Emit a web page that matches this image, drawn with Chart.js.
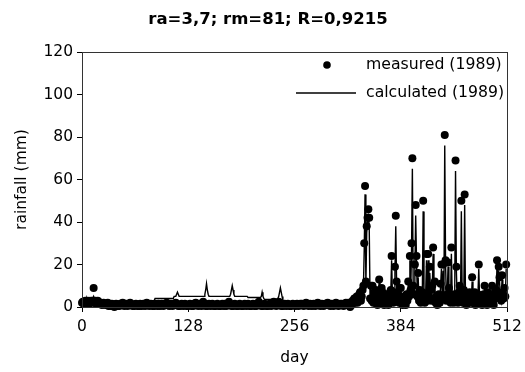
<!DOCTYPE html>
<html>
<head>
<meta charset="utf-8">
<script src="https://cdn.jsdelivr.net/npm/chart.js@4.4.1/dist/chart.umd.min.js"></script>
<style>
  html, body { margin: 0; padding: 0; background: #fff; }
  #wrap { width: 525px; height: 372px; }
</style>
</head>
<body>
<div id="wrap"><canvas id="rain"></canvas></div>
<script>
// 1989 daily rainfall, measured vs calculated (mm)
const TITLE = "ra=3,7; rm=81; R=0,9215";
const X_TICKS = [0, 128, 256, 384, 512];
const Y_TICKS = [0, 20, 40, 60, 80, 100, 120];

const measured = [
  2,2.5,1.5,2,3,2,1.5,3,2,1.5,2,3,2.5,3,9,2,3,1.5,2,3,2.5,1.5,2,1.5,1,1.5,2,1.5,1,1.5,1.5,2,
  0.5,1,0.5,1,1.5,1,0.5,0,1,1.5,1,0.5,1,0.5,1.5,1,1.5,2,1,0.5,1,1.5,1,0.5,1,1.5,2,1.5,1,0.5,1,0.5,
  1,1.5,1,0.5,1,0.5,1.5,1,0.5,1,1.5,1,0.5,1,2,1.5,1,0.5,1,1.5,1,0.5,1,0.5,1.5,1,1,0.5,1.5,1,0.5,1,
  1.5,1,0.5,1,1.5,1,2,1.5,1,0.5,1,1.5,1,0.5,1,1.5,1,2,1.5,1,0.5,1,0.5,1,1.5,1,0.5,1,1.5,1,0.5,1,
  0.5,1,1.5,1,0.5,1,0.5,1.5,1,2,1.5,1,0.5,1,1.5,1,0.5,1.5,2.5,1.5,1,0.5,1,0.5,1,1.5,1,0.5,1,1.5,1,0.5,
  1,0.5,1,1.5,1,0.5,1,0.5,1,1.5,1,0.5,1.5,1,0.5,1,1.5,2.5,1.5,1,0.5,1,0.5,1,1.5,1,0.5,1,0.5,1,1.5,1,
  0.5,1,0.5,1,1.5,1,0.5,1,1.5,1,0.5,1,0.5,1,1.5,1,0.5,1,0.5,1.5,1,2.5,1.5,1,0.5,1,0.5,1,1.5,1,0.5,1,
  0.5,1,1.5,1,0.5,1,1.5,2.5,1.5,1,0.5,1,1.5,2.5,1.5,1,0.5,1,0.5,1,1.5,1,0.5,1,1.5,1,0.5,1,0.5,1,1.5,1,
  1,0.5,1,1.5,1,0.5,1,1.5,1,1.5,1,0.5,1,1.5,2,1.5,1,0.5,1,1.5,1,0.5,1,1.5,1,0.5,1,1.5,2,1.5,1,0.5,
  1,1.5,1,0.5,1,1.5,1,1.5,2,1.5,1,0.5,1,1.5,1,0.5,1,1.5,2,1.5,1,0.5,1,1.5,1,1.5,1,0.5,1,1.5,2,1.5,
  1,2,1,0,2,1,3,2,4,2,3,5,2,4,6,7,3,5,8,10,30,57,12,38,42,46,42,4,10,3,10,2,
  5,2,8,3,1,6,13,4,2,9,7,3,1,5,2,6,3,1,4,2,8,24,5,2,7,19,43,12,3,6,2,9,
  9,3,1,5,2,4,1,6,3,12,5,24,8,30,70,10,6,20,48,24,5,16,3,8,2,4,7,50,4,2,6,25,
  3,25,5,19,8,3,10,28,4,12,2,5,1,3,6,2,11,20,4,20,4,81,22,3,6,21,9,4,2,28,5,3,
  2,6,69,19,4,2,7,10,3,50,5,2,8,53,3,1,5,2,4,7,2,3,14,2,5,7,1,3,2,6,20,4,
  2,5,1,3,6,10,2,4,1,7,3,5,2,4,10,3,1,6,4,8,22,5,19,14,6,3,15,7,4,9,5,20
];

const calculated = [
  1,2,2,3,3,3,4,3,3,4,3,3,4,4,5,4,4,3,3,4,3,3,3,2,2,2,2,2,2,2,1,1,
  1,1,1,2,1,1,1,1,2,1,1,1,1,2,2,1,2,2,2,2,2,2,2,2,2,2,2,2,2,2,2,2,
  2,2,2,2,2,2,2,2,2,2,2,2,3,3,3,3,3,3,3,3,3,3,3,3,4,4,4,4,4,4,4,4,
  4,4,4,4,4,4,4,4,4,4,4,4,4,4,4,5,5,5,6,7,6,5,5,5,5,5,5,5,5,5,5,5,
  5,5,5,5,5,5,5,5,5,5,5,5,5,5,5,5,5,5,5,5,6,8,11,8,6,5,5,5,5,5,5,5,
  5,5,5,5,5,5,5,5,5,5,5,5,5,5,5,5,5,5,5,6,8,10,8,6,5,5,5,5,5,5,5,5,
  5,5,5,5,5,5,5,5,4.5,4.5,4.5,4.5,4.5,4.5,4.5,4.5,4.5,4.5,4.5,4.5,4.5,4.5,4.5,4.5,5,7,5,4,3.5,3.5,3.5,3.5,
  3.5,3.5,3.5,3.5,3.5,3.5,3.5,3.5,3.5,3.5,3.5,3.5,4,5,7,9,7,5,3,2,2,2,2,2,2,2,2,2,2,2,2,2,
  2,2,1,2,2,2,1,2,2,2,2,1,2,2,2,2,1,2,2,2,2,2,1,2,2,2,2,1,2,2,2,2,
  2,1,2,2,2,1,2,2,2,2,1,2,2,2,1,2,2,2,2,1,2,2,2,2,1,2,2,2,2,1,2,2,
  2,2,2,2,3,2,3,3,4,3,3,5,3,4,6,7,4,5,7,9,27,53,11,35,40,44,38,5,9,4,8,3,
  5,3,7,3,2,6,12,4,3,8,6,3,2,5,3,6,3,2,4,3,7,22,5,3,6,17,38,11,3,6,3,8,
  8,3,2,5,3,4,2,6,3,11,5,22,7,27,65,9,6,18,43,22,5,14,3,7,3,4,6,45,4,3,6,22,
  3,22,5,16,7,3,9,25,4,11,3,5,2,3,6,3,10,18,4,17,4,76,20,3,6,19,8,4,3,25,5,3,
  3,6,64,17,4,3,7,9,3,45,5,3,7,48,3,2,5,3,4,6,3,3,12,3,5,6,2,3,3,6,18,4,
  3,5,2,3,6,9,3,4,2,6,3,5,3,4,9,3,2,6,4,7,20,5,17,12,5,3,13,6,4,8,5,18
];

const LEGEND = ["measured (1989)", "calculated (1989)"];

const FONT = "'DejaVu Sans', 'Liberation Sans', sans-serif";

const toPoints = (arr) => arr.map((v, i) => ({ x: i, y: v }));

// title, plot frame (top/right edges too) and legend
const framePlugin = {
  id: "frame",
  afterDatasetsDraw(chart) {
    const { ctx, chartArea: a } = chart;
    ctx.save();
    ctx.strokeStyle = "#333";
    ctx.lineWidth = 1;
    ctx.strokeRect(a.left + 0.5, a.top + 0.5, a.right - a.left, a.bottom - a.top);

    ctx.fillStyle = "#000";
    ctx.textBaseline = "middle";
    ctx.textAlign = "center";
    ctx.font = "bold 16.5px " + FONT;
    ctx.fillText(TITLE, 268, 19.5);

    ctx.font = "15.7px " + FONT;
    ctx.textAlign = "left";
    const tx = a.right - 141;
    const y1 = a.top + 13, y2 = a.top + 41;
    ctx.beginPath();
    ctx.arc(a.right - 180, y1, 3.8, 0, Math.PI * 2);
    ctx.fill();
    ctx.fillText(LEGEND[0], tx, y1);
    ctx.beginPath();
    ctx.moveTo(a.right - 211, y2);
    ctx.lineTo(a.right - 151, y2);
    ctx.lineWidth = 1.4;
    ctx.strokeStyle = "#000";
    ctx.stroke();
    ctx.fillText(LEGEND[1], tx, y2);
    ctx.restore();
  }
};

new Chart(document.getElementById("rain"), {
  type: "line",
  data: {
    datasets: [
      {
        label: LEGEND[1],
        data: toPoints(calculated),
        borderColor: "#000",
        borderWidth: 1.4,
        pointRadius: 0,
        tension: 0,
        clip: false
      },
      {
        label: LEGEND[0],
        data: toPoints(measured),
        showLine: false,
        pointRadius: 4,
        pointBackgroundColor: "#000",
        pointBorderWidth: 0,
        clip: false
      }
    ]
  },
  options: {
    responsive: true,
    maintainAspectRatio: false,
    animation: false,
    layout: { padding: { left: 0, right: 18, top: 52, bottom: 0 } },
    plugins: {
      legend: { display: false },
      tooltip: { enabled: false },
      title: { display: false }
    },
    scales: {
      x: {
        type: "linear",
        min: 0,
        max: 512,
        afterBuildTicks: (s) => { s.ticks = X_TICKS.map((v) => ({ value: v })); },
        afterFit: (s) => { s.height = 65; s.paddingRight = 18; },
        grid: { display: true, drawOnChartArea: false, tickLength: 5, color: "#000" },
        border: { display: true, color: "#000" },
        ticks: { color: "#000", padding: 6, font: { family: FONT, size: 15.5 } },
        title: {
          display: true,
          text: "day",
          color: "#000",
          font: { family: FONT, size: 15.5 },
          padding: { top: 0, bottom: 5 }
        }
      },
      y: {
        min: 0,
        max: 120,
        afterBuildTicks: (s) => { s.ticks = Y_TICKS.map((v) => ({ value: v })); },
        afterFit: (s) => { s.width = 82; },
        grid: { display: true, drawOnChartArea: false, tickLength: 5, color: "#000" },
        border: { display: true, color: "#000" },
        ticks: { color: "#000", padding: 4, font: { family: FONT, size: 15.5 } },
        title: {
          display: true,
          text: "rainfall (mm)",
          color: "#000",
          font: { family: FONT, size: 15.5 },
          padding: { top: 13, bottom: 0 }
        }
      }
    }
  },
  plugins: [framePlugin]
});
</script>
</body>
</html>
